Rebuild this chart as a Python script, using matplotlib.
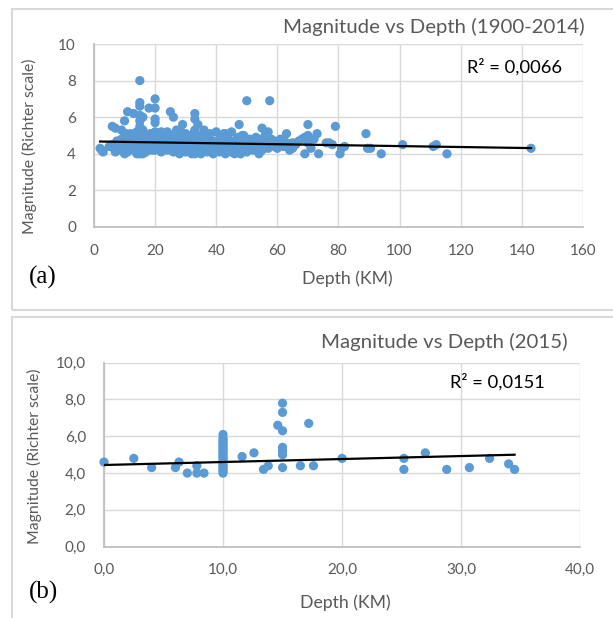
import numpy as np
import matplotlib.pyplot as plt
from matplotlib.patches import Rectangle
from matplotlib.ticker import FuncFormatter, MultipleLocator

plt.rcParams['font.family'] = ['Lato', 'DejaVu Sans']

# --- data ---
# (a) 1900-2014
depth_a = [2, 2.5, 3, 5, 6, 6, 7, 7, 8, 8,
           9, 9, 9, 6.5, 7.5, 10, 10, 10, 10, 10,
           11, 11, 11, 12, 12, 12, 13, 13, 13, 14,
           14, 14, 15, 15, 15, 15, 15, 15, 15, 15,
           15, 15, 16, 16, 16, 17, 17, 17, 18, 18,
           18, 19, 19, 20, 20, 20, 20, 20, 20, 20,
           20, 21, 21, 22, 22, 22, 23, 23, 24, 24,
           24, 25, 25, 25, 26, 26, 26, 27, 27, 28,
           28, 28, 29, 29, 30, 30, 30, 31, 31, 32,
           32, 33, 33, 33, 33, 33, 33, 34, 34, 34,
           35, 35, 35, 36, 36, 37, 37, 38, 38, 39,
           39, 40, 40, 40, 41, 41, 42, 42, 43, 43,
           44, 44, 45, 45, 45, 46, 46, 47, 47, 47.5,
           48, 48, 49, 49, 50, 50, 50, 51, 51, 52,
           52, 53, 53, 54, 54, 55, 55, 55, 56, 56,
           57, 57, 57.5, 58, 58, 59, 59, 60, 60, 61,
           62, 62, 63, 63, 64, 65, 65, 66, 67, 68,
           69, 69, 70, 70, 70, 71, 72, 73, 73.5, 76,
           77, 78, 79, 80.5, 81, 82, 89, 89.5, 90.5, 94,
           101, 111, 112, 115.5, 143, 16, 22, 27, 36, 43,
           9.5, 12.5, 16.5, 19.5, 23.5, 26.5, 29.5, 31.5, 34.5, 37.5,
           39.5, 41.5, 44.5, 46.5, 49.5, 51.5, 53.5, 56.5, 58.5, 61.5,
           10.5, 14.5, 18.5, 21.5, 25.5, 28.5, 32.5, 36.5, 42.5, 48.5]
mag_a = [4.3, 4.2, 4.1, 4.4, 4.5, 5.5, 4.1, 5.4, 4.2, 4.6,
         4.8, 5.3, 4.4, 4.3, 4.7, 4.0, 4.3, 4.6, 5.0, 5.8,
         4.1, 4.8, 6.3, 4.4, 4.7, 5.1, 4.2, 4.9, 6.2, 4.0,
         4.5, 5.2, 4.0, 4.3, 4.7, 5.0, 5.5, 5.8, 6.1, 6.6,
         6.8, 8.0, 4.0, 4.4, 6.0, 4.1, 4.6, 5.0, 4.3, 6.5,
         4.8, 4.2, 5.1, 4.2, 4.5, 4.9, 5.2, 5.7, 5.9, 6.5,
         7.0, 4.3, 4.7, 4.1, 4.5, 5.1, 4.4, 4.9, 4.2, 4.6,
         5.2, 4.3, 4.8, 6.3, 4.1, 4.6, 6.0, 4.4, 5.0, 4.0,
         4.5, 4.9, 4.2, 5.6, 4.1, 4.6, 5.1, 4.3, 4.8, 4.0,
         4.5, 4.0, 4.4, 4.8, 5.3, 5.9, 6.2, 4.2, 4.7, 5.6,
         4.0, 4.5, 5.0, 4.3, 4.9, 4.1, 4.6, 4.4, 5.1, 4.0,
         4.7, 4.2, 4.6, 5.2, 4.1, 4.8, 4.4, 4.9, 4.0, 4.6,
         4.3, 4.8, 4.1, 4.5, 5.2, 4.0, 4.7, 4.2, 4.9, 5.6,
         4.0, 4.5, 4.3, 5.0, 4.1, 4.6, 6.9, 4.4, 4.8, 4.2,
         4.7, 4.3, 4.9, 4.0, 4.5, 4.2, 4.8, 5.4, 4.4, 5.0,
         4.3, 5.2, 6.9, 4.5, 4.8, 4.4, 4.7, 4.3, 4.6, 4.8,
         4.4, 4.8, 4.6, 5.1, 4.2, 4.3, 4.6, 4.5, 4.7, 4.8,
         4.0, 4.9, 4.6, 5.0, 5.6, 4.3, 4.8, 5.1, 4.0, 4.6,
         4.6, 4.5, 5.5, 4.0, 4.3, 4.4, 5.1, 4.3, 4.3, 4.0,
         4.5, 4.4, 4.5, 4.0, 4.3, 5.3, 5.2, 5.3, 5.3, 5.1,
         4.5, 4.9, 4.7, 4.6, 4.7, 4.3, 4.7, 4.6, 4.4, 4.8,
         4.4, 4.5, 4.6, 4.4, 4.7, 4.6, 4.6, 4.7, 4.6, 4.5,
         5.1, 4.8, 5.1, 5.0, 5.0, 5.2, 5.1, 5.1, 5.1, 5.0]
trend_a = (-0.00254, 4.675)   # slope, intercept of the linear trendline
r2_a = "0,0066"

# (b) 2015
depth_b = [0, 2.5, 4, 6, 6.3, 7, 7.8, 7.8, 8.4,
           10, 10, 10, 10, 10, 10, 10, 10, 10, 10, 10,
           10, 10, 10, 10, 10, 10, 10, 10, 10, 10,
           11.6, 12.6, 13.4, 13.8, 14.6, 15, 15, 15, 15, 15, 15, 15,
           16.5, 17.2, 17.6, 20, 25.2, 25.2, 27, 28.8, 30.7, 32.4, 34, 34.5]
mag_b = [4.6, 4.8, 4.3, 4.3, 4.6, 4.0, 4.4, 4.0, 4.0,
         4.0, 4.1, 4.2, 4.3, 4.4, 4.5, 4.6, 4.7, 4.8, 4.9, 5.0,
         5.1, 5.2, 5.3, 5.4, 5.5, 5.6, 5.7, 5.8, 5.9, 6.1,
         4.9, 5.1, 4.2, 4.4, 6.6, 7.8, 7.3, 6.3, 5.4, 5.2, 5.0, 4.3,
         4.4, 6.7, 4.4, 4.8, 4.8, 4.2, 5.1, 4.2, 4.3, 4.8, 4.5, 4.2]
trend_b = (0.0162, 4.44)
r2_b = "0,0151"

BLUE = '#5B9BD5'
GRID = '#D9D9D9'
TXT = '#595959'

fig = plt.figure(figsize=(6.13, 6.18), dpi=100)

# panel frames
for y0, h in [(0.498, 0.488), (-0.01, 0.497)]:
    fig.patches.append(Rectangle((0.02, y0), 1.0, h, transform=fig.transFigure,
                                 fill=False, edgecolor='#D9D9D9', lw=1.5))

ax1 = fig.add_axes([0.1533, 0.6327, 0.7977, 0.2961])
ax2 = fig.add_axes([0.1697, 0.1154, 0.7765, 0.2977])


def style(ax, xmax, xstep, fmt):
    ax.set_xlim(0, xmax)
    ax.set_ylim(0, 10)
    ax.xaxis.set_major_locator(MultipleLocator(xstep))
    ax.yaxis.set_major_locator(MultipleLocator(2))
    ax.grid(True, color=GRID, lw=1.0)
    ax.set_axisbelow(True)
    for s in ['top', 'right']:
        ax.spines[s].set_visible(False)
    for s in ['left', 'bottom']:
        ax.spines[s].set_color('#BFBFBF')
        ax.spines[s].set_linewidth(1.3)
    ax.tick_params(length=0, labelsize=11, labelcolor=TXT)
    ax.tick_params(axis='y', pad=13)
    ax.tick_params(axis='x', pad=12)
    if fmt:
        f = FuncFormatter(lambda v, p: f"{v:.1f}".replace('.', ','))
        ax.xaxis.set_major_formatter(f)
        ax.yaxis.set_major_formatter(f)


style(ax1, 160, 20, False)
style(ax2, 40, 10, True)

for ax, d, m, tr in [(ax1, depth_a, mag_a, trend_a), (ax2, depth_b, mag_b, trend_b)]:
    ax.scatter(d, m, s=44, color=BLUE, edgecolors='none', zorder=3, clip_on=False)
    xs = np.array([min(d), max(d)])
    ax.plot(xs, tr[0] * xs + tr[1], color='black', lw=1.6, zorder=4)

# texts
fig.text(0.9543, 0.9563, "Magnitude vs Depth (1900-2014)", ha='right', va='center',
         fontsize=14.7, color=TXT)
fig.text(0.9266, 0.4466, "Magnitude vs Depth (2015)", ha='right', va='center',
         fontsize=14.7, color=TXT)
fig.text(0.7618, 0.8916, "R² = " + r2_a, ha='left', va='center', fontsize=13.2, color='black')
fig.text(0.7341, 0.3819, "R² = " + r2_b, ha='left', va='center', fontsize=13.2, color='black')
fig.text(0.566, 0.5485, "Depth (KM)", ha='center', va='center', fontsize=12.7, color=TXT)
fig.text(0.5638, 0.0243, "Depth (KM)", ha='center', va='center', fontsize=12.7, color=TXT)
fig.text(0.0473, 0.763, "Magnitude (Richter scale)", rotation=90, ha='center', va='center',
         fontsize=11.3, color=TXT)
fig.text(0.0555, 0.2621, "Magnitude (Richter scale)", rotation=90, ha='center', va='center',
         fontsize=11.3, color=TXT)
fig.text(0.0473, 0.5518, "(a)", ha='left', va='center', fontsize=18,
         family='Liberation Serif', color='black')
fig.text(0.0473, 0.0421, "(b)", ha='left', va='center', fontsize=18,
         family='Liberation Serif', color='black')

fig.savefig('out.png', dpi=100)
